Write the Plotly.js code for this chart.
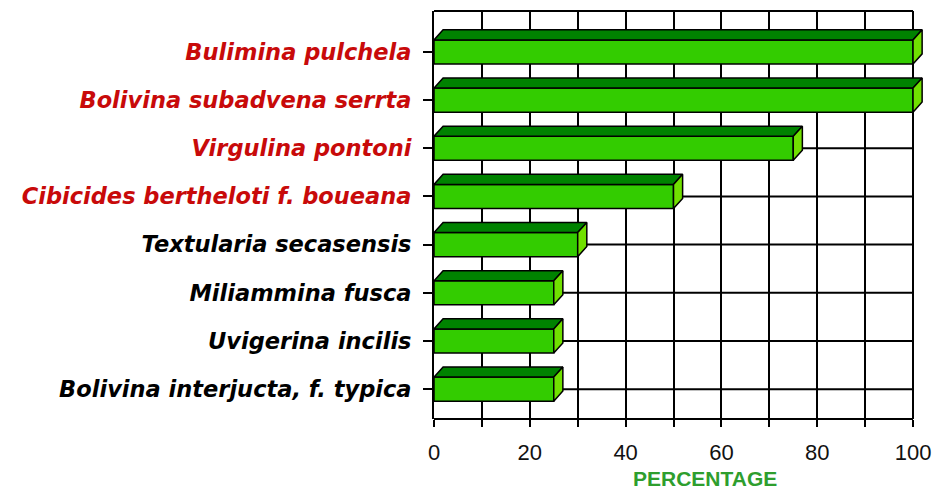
<!DOCTYPE html>
<html><head><meta charset="utf-8">
<script src="https://cdn.plot.ly/plotly-3.0.1.min.js"></script>
<style>html,body{margin:0;padding:0;background:#fff}</style>
</head><body><div id="chart" style="width:940px;height:492px"></div>
<script>
// ---- data ----
const species = [
  'Bulimina pulchela',
  'Bolivina subadvena serrta',
  'Virgulina pontoni',
  'Cibicides bertheloti f. boueana',
  'Textularia secasensis',
  'Miliammina fusca',
  'Uvigerina incilis',
  'Bolivina interjucta, f. typica'
];
const percentages = [100, 100, 75, 50, 30, 25, 25, 25];
const labelColors = ['#c80a0a', '#c80a0a', '#c80a0a', '#c80a0a', '#000000', '#000000', '#000000', '#000000'];
const xTickValues = [0, 10, 20, 30, 40, 50, 60, 70, 80, 90, 100];
const xTickLabels = ['0', '', '20', '', '40', '', '60', '', '80', '', '100'];
const xTitle = 'PERCENTAGE';

// ---- geometry helpers ----
const n = species.length;
const pos = species.map((_, i) => n - 1 - i);
const halfBar = 0.25, depthX = 1.9, depthY = 0.21;
const xMax = 100, xRangeMax = 102.5;

const topX = [], topY = [], sideX = [], sideY = [];
percentages.forEach((v, i) => {
  const y = pos[i];
  topX.push(0, v, v + depthX, depthX, 0, null);
  topY.push(y + halfBar, y + halfBar, y + halfBar + depthY, y + halfBar + depthY, y + halfBar, null);
  sideX.push(v, v + depthX, v + depthX, v, v, null);
  sideY.push(y - halfBar, y - halfBar + depthY, y + halfBar + depthY, y + halfBar, y - halfBar, null);
});

const traces = [
  {type: 'bar', orientation: 'h', x: percentages, y: pos, width: 2 * halfBar,
   marker: {color: '#33cc00', line: {color: '#000', width: 1.5}}, hoverinfo: 'skip', showlegend: false},
  {type: 'scatter', mode: 'lines', x: topX, y: topY, fill: 'toself', fillcolor: '#008200',
   line: {color: '#000', width: 1.5}, hoverinfo: 'skip', showlegend: false},
  {type: 'scatter', mode: 'lines', x: sideX, y: sideY, fill: 'toself', fillcolor: '#70e000',
   line: {color: '#000', width: 1.5}, hoverinfo: 'skip', showlegend: false}
];

const shapes = pos.map(p => ({type: 'line', layer: 'below', xref: 'x', yref: 'y', x0: 0, x1: xMax, y0: p, y1: p,
  line: {color: '#000', width: 2}}));
shapes.push({type: 'line', xref: 'paper', yref: 'paper', x0: 0, x1: xMax / xRangeMax, y0: 1, y1: 1, line: {color: '#000', width: 2}});
shapes.push({type: 'line', xref: 'paper', yref: 'paper', x0: 0, x1: xMax / xRangeMax, y0: 0, y1: 0, line: {color: '#000', width: 2}});

const layout = {
  width: 940, height: 492,
  margin: {l: 434, r: 15, t: 11, b: 73, pad: 0},
  paper_bgcolor: '#fff', plot_bgcolor: '#fff',
  showlegend: false,
  bargap: 0,
  xaxis: {
    range: [0, xRangeMax], tickmode: 'array', tickvals: xTickValues, ticktext: xTickLabels,
    showgrid: true, gridcolor: '#000', gridwidth: 2, zeroline: false, showline: false,
    ticks: 'outside', ticklen: 7, tickwidth: 2, tickcolor: '#000', ticklabelstandoff: 7,
    tickfont: {family: 'Liberation Sans, Arial, sans-serif', size: 22, color: '#111'},
    fixedrange: true
  },
  yaxis: {
    range: [-0.62, 7.85], tickmode: 'array', tickvals: pos,
    ticktext: species.map((s, i) => '<span style="color:' + labelColors[i] + '">' + s + '</span>'),
    showgrid: false, zeroline: false, showline: true, linecolor: '#000', linewidth: 2,
    ticks: 'outside', ticklen: 9, tickwidth: 2, tickcolor: '#000', ticklabelstandoff: 7,
    tickfont: {family: 'DejaVu Sans, sans-serif', size: 22.5, color: '#000', weight: 'bold', style: 'italic'},
    fixedrange: true
  },
  shapes: shapes,
  annotations: [{text: xTitle, xref: 'paper', yref: 'paper', x: 0.552, y: -0.145, xanchor: 'center', yanchor: 'middle',
    showarrow: false, font: {family: 'Liberation Sans, Arial, sans-serif', size: 21, color: '#2e9e2e', weight: 'bold'}}]
};

Plotly.newPlot('chart', traces, layout, {displayModeBar: false, staticPlot: true});
</script>
</body></html>
